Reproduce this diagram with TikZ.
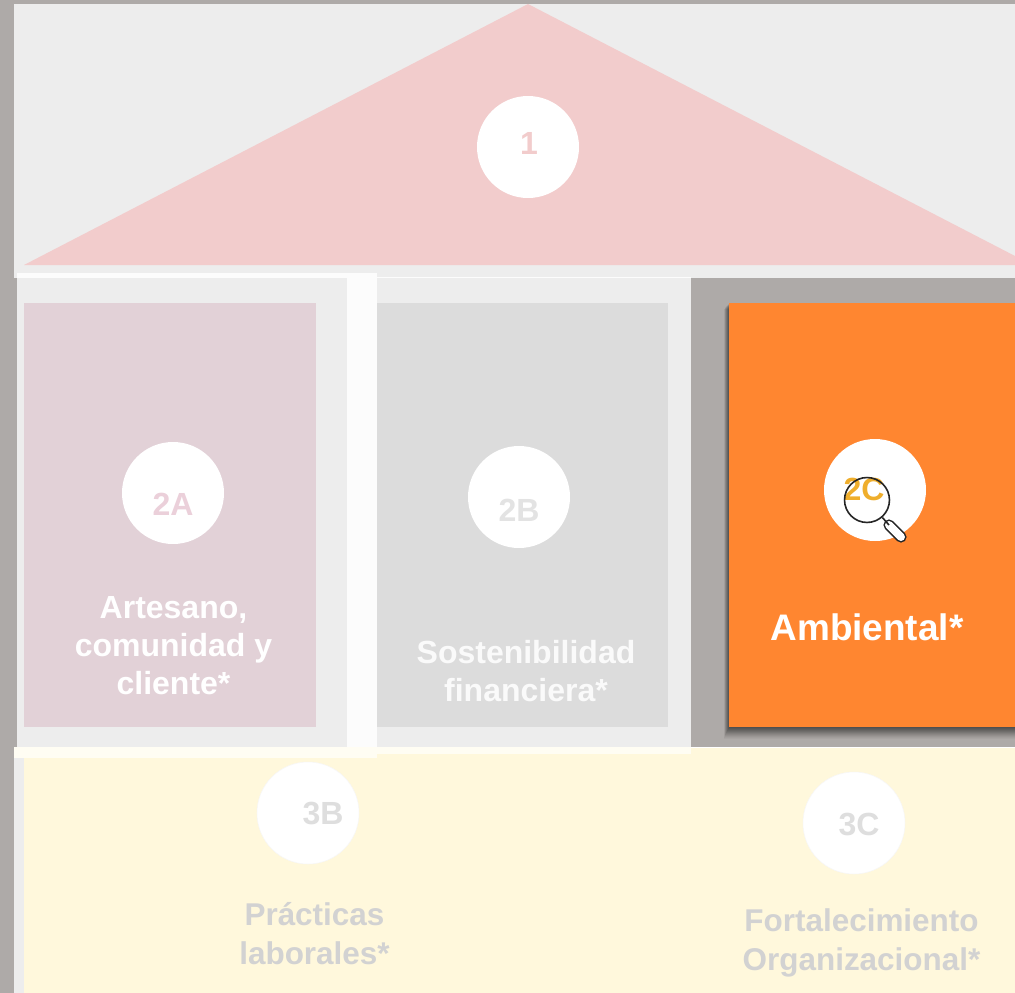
\documentclass[tikz,border=0pt]{standalone}
\usepackage{fontspec}
\setmainfont{Liberation Sans}
\definecolor{bggray}{HTML}{AEAAA8}
\definecolor{panel}{HTML}{EDEDED}
\definecolor{roof}{HTML}{F2CCCC}
\definecolor{boxa}{HTML}{E2D1D7}
\definecolor{boxb}{HTML}{DCDCDC}
\definecolor{boxc}{HTML}{FF8630}
\definecolor{base}{HTML}{FFF8DC}
\definecolor{strip}{HTML}{FCFCFC}
\definecolor{stripy}{HTML}{FFFDF3}
\definecolor{gold}{HTML}{EFAE2C}
\definecolor{labela}{HTML}{EBD0DA}
\definecolor{labelb}{HTML}{E3E3E3}
\definecolor{labelthree}{HTML}{DEDEDE}
\definecolor{captionthree}{HTML}{D2D2D2}
\tikzset{
  disc/.style={circle,fill=white,draw=none,minimum size=76.5pt,inner sep=0pt},
  softdisc/.style={disc,draw=white!97!black,line width=0.4pt},
  numlabel/.style={text=#1,font=\fontsize{24}{28.5}\selectfont\bfseries,inner sep=0pt,anchor=center},
  caption/.style={text=#1,font=\fontsize{24}{28.5}\selectfont\bfseries,inner sep=0pt,align=center,anchor=center},
  captionsmall/.style={text=#1,font=\fontsize{23.6}{29.2}\selectfont\bfseries,inner sep=0pt,align=center,anchor=center},
  lens/.style={draw=black!85,line width=1.2pt},
}
\begin{document}
\begin{tikzpicture}[x=0.75pt,y=-0.75pt]
\useasboundingbox (0,0) rectangle (1015,993);
\clip (0,0) rectangle (1015,993);
% background and panels
\fill[bggray] (0,0) rectangle (1015,993);
\fill[panel] (14,4) rectangle (1015,278);
\fill[roof] (528,4) -- (1015,256) -- (1015,265) -- (24,265) -- cycle;
\fill[panel] (17,278) rectangle (691,747);
\fill[panel] (14,747) rectangle (24,993);
\fill[base] (24,747) rectangle (1015,993);
% translucent white strips
\fill[strip] (17,273) rectangle (377,278);
\fill[strip] (377,277) rectangle (691,278);
\fill[strip] (347,273) rectangle (377,747);
\fill[stripy] (14,747) rectangle (691,754);
\fill[stripy] (14,754) rectangle (377,758);
\fill[white] (691,747) rectangle (1015,747.6);
% pillars
\fill[boxa] (24,303) rectangle (316,727);
\fill[boxb] (377,303) rectangle (668,727);
\foreach \d/\o in {12/0.03,11/0.03,10/0.04,9/0.05,8/0.05,7/0.06,6/0.07,5/0.07,4/0.07,3/0.07,2/0.07,1/0.07}{
  \fill[black,opacity=\o] (729-0.45*\d,303+0.5*\d) rectangle (1015,727+\d);
}
\fill[boxc] (729,303) rectangle (1015,727);
% discs
\node[disc] (d1) at (528,147) {};
\node[disc] (d2a) at (173,493) {};
\node[disc] (d2b) at (519,497) {};
\node[disc] (d2c) at (875,490) {};
\node[softdisc] (d3b) at (308,813) {};
\node[softdisc] (d3c) at (854,823) {};
% labels
\node[numlabel=roof] (t1) at (529,143) {1};
\node[numlabel=labela] (t2a) at (173,504) {2A};
\node[numlabel=labelb] (t2b) at (519,510) {2B};
\node[numlabel=gold] (t2c) at (864,489) {2C};
\node[numlabel=labelthree] (t3b) at (323,813) {3B};
\node[numlabel=labelthree] (t3c) at (859,824) {3C};
\node[caption=white] (c2a) at (173.5,646) {Artesano,\\comunidad y\\cliente*};
\node[caption=white!98!black] (c2b) at (526,671) {Sostenibilidad\\financiera*};
\node[caption=white,font=\fontsize{27.7}{32}\selectfont\bfseries] (c2c) at (867,627) {Ambiental*};
\node[captionsmall=captionthree] (c3b) at (314.5,933.5) {Prácticas\\laborales*};
\node[captionsmall=captionthree] (c3c) at (861.5,942.5) {Fortalecimiento\\Organizacional*};
% magnifier
\node[circle,lens,minimum size=33.7pt,inner sep=0pt] (glass) at (867,500) {};
\coordinate (hs) at (889,525);
\coordinate (he) at (901,537);
\draw[black!85,line width=8.4pt,line cap=round] (hs) -- (he);
\draw[white,line width=6pt,line cap=round] (hs) -- (he);
\draw[lens] (glass) -- (hs);
\end{tikzpicture}
\end{document}
